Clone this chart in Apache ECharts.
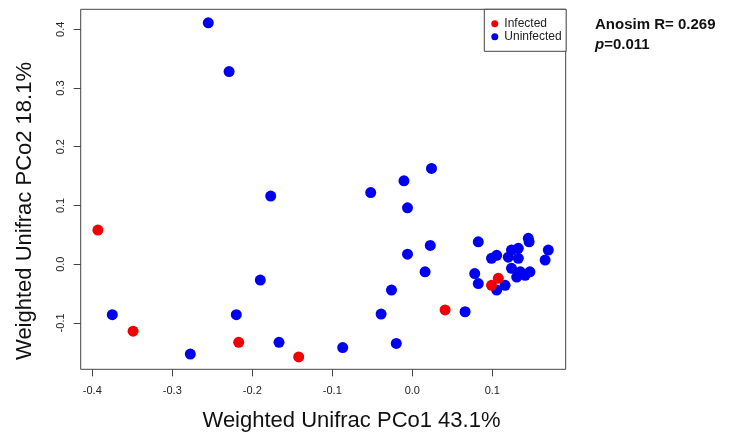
<!DOCTYPE html>
<html>
<head>
<meta charset="utf-8">
<script src="https://cdn.jsdelivr.net/npm/echarts@6/dist/echarts.min.js"></script>
<style>html,body{margin:0;padding:0;background:#fff;}#c{width:734px;height:432px;}</style>
</head>
<body>
<div id="c"></div>
<script>
const xTicks = [-0.4, -0.3, -0.2, -0.1, 0.0, 0.1];
const yTicks = [-0.1, 0.0, 0.1, 0.2, 0.3, 0.4];
const seriesNames = ['Infected', 'Uninfected'];
const infected = [
  [-0.393, 0.058], [-0.349, -0.114], [-0.217, -0.133], [-0.142, -0.158],
  [0.041, -0.078], [0.099, -0.036], [0.1075, -0.024]
];
const uninfected = [
  [-0.255, 0.411], [-0.229, 0.328], [-0.177, 0.116], [-0.190, -0.027],
  [-0.375, -0.086], [-0.220, -0.086], [-0.2775, -0.153], [-0.1666, -0.133],
  [-0.087, -0.142], [-0.052, 0.122], [-0.039, -0.085], [-0.020, -0.135],
  [-0.0104, 0.142], [0.024, 0.163], [-0.006, 0.096], [0.0225, 0.032],
  [-0.006, 0.017], [0.016, -0.013], [-0.026, -0.044], [0.066, -0.081],
  [0.0825, 0.038], [0.145, 0.044], [0.146, 0.038], [0.170, 0.024], [0.166, 0.007],
  [0.099, 0.010], [0.1055, 0.015], [0.124, 0.024], [0.1325, 0.027],
  [0.120, 0.012], [0.1325, 0.010], [0.124, -0.007], [0.135, -0.013],
  [0.147, -0.013], [0.1305, -0.022], [0.141, -0.019], [0.078, -0.016],
  [0.0825, -0.033], [0.1055, -0.044], [0.116, -0.036]
];
const xTitle = 'Weighted Unifrac PCo1 43.1%';
const yTitle = 'Weighted Unifrac PCo2 18.1%';
const statLine1 = 'Anosim R= 0.269';
const statP = '0.011';

const FONT = '"Liberation Sans", Arial, Helvetica, sans-serif';
const chart = echarts.init(document.getElementById('c'), null, {renderer: 'canvas'});
chart.setOption({
  animation: false,
  backgroundColor: '#fff',
  grid: {left: 80.7, top: 9.3, right: 168.3, bottom: 62.7, show: true, borderColor: '#444', borderWidth: 1, backgroundColor: 'transparent'},
  xAxis: {
    type: 'value', min: -0.4145, max: 0.19175,
    axisLine: {show: false, onZero: false},
    splitLine: {show: false},
    axisTick: {show: true, length: 7, inside: false, customValues: xTicks, lineStyle: {color: '#444'}},
    axisLabel: {customValues: xTicks, margin: 16, fontSize: 11, color: '#222', fontFamily: FONT,
      formatter: v => v.toFixed(1)}
  },
  yAxis: {
    type: 'value', min: -0.179, max: 0.434,
    axisLine: {show: false, onZero: false},
    splitLine: {show: false},
    axisTick: {show: true, length: 7, inside: false, customValues: yTicks, lineStyle: {color: '#444'}},
    axisLabel: {customValues: yTicks, margin: 14, fontSize: 11, color: '#222', fontFamily: FONT, rotate: 90,
      formatter: v => v.toFixed(1)}
  },
  legend: {
    orient: 'vertical', left: 484.3, top: 9.3,
    data: seriesNames.map(n => ({name: n, icon: 'circle'})),
    itemWidth: 7, itemHeight: 7, itemGap: 0,
    padding: [8, 4.5, 8, 7],
    borderColor: '#444', borderWidth: 1, borderRadius: 0,
    backgroundColor: '#fff',
    textStyle: {fontSize: 12, color: '#222', fontFamily: FONT, lineHeight: 13, padding: [0, 0, 0, 1]}
  },
  series: [
    {name: seriesNames[0], type: 'scatter', data: infected, symbolSize: 11, itemStyle: {color: '#f00000', opacity: 1}, z: 3},
    {name: seriesNames[1], type: 'scatter', data: uninfected, symbolSize: 11, itemStyle: {color: '#0000f0', opacity: 1}, z: 2}
  ],
  graphic: [
    {type: 'text', style: {text: xTitle, font: '22px ' + FONT, fill: '#111', textAlign: 'center', textVerticalAlign: 'middle'}, x: 351.5, y: 421},
    {type: 'text', style: {text: yTitle, font: '22px ' + FONT, fill: '#111', textAlign: 'center', textVerticalAlign: 'middle'}, x: 25, y: 211, rotation: Math.PI / 2},
    {type: 'text', style: {text: statLine1, font: 'bold 15px ' + FONT, fill: '#111', textAlign: 'left', textVerticalAlign: 'middle'}, x: 595, y: 25},
    {type: 'text', style: {
      text: '{i|p}{n|=' + statP + '}',
      rich: {i: {font: 'italic bold 15px ' + FONT, fill: '#111'}, n: {font: 'bold 15px ' + FONT, fill: '#111'}},
      textAlign: 'left', textVerticalAlign: 'middle'}, x: 595, y: 45}
  ]
});
</script>
</body>
</html>
